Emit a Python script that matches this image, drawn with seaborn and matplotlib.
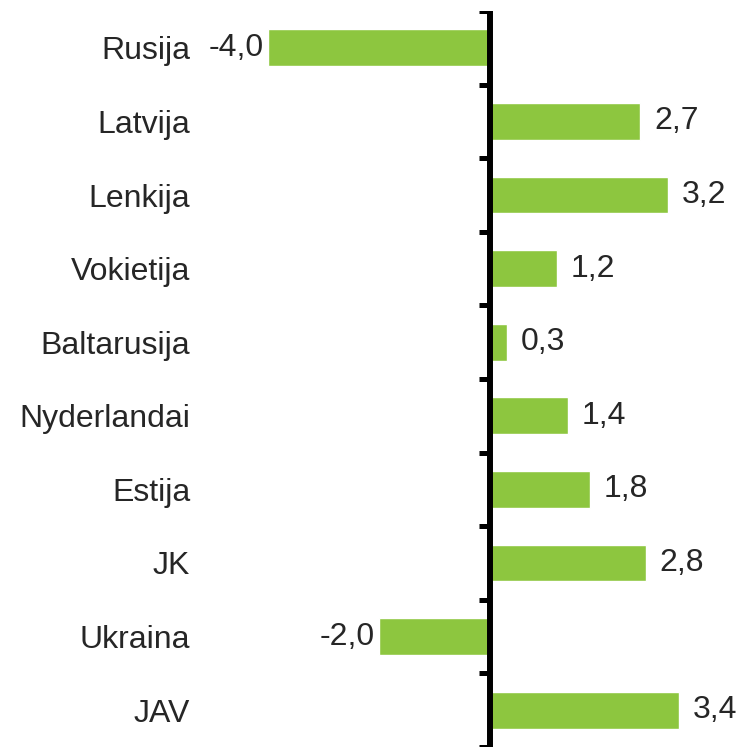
import matplotlib
matplotlib.use("Agg")
import matplotlib.pyplot as plt
import seaborn as sns
import numpy as np

categories = ["Rusija", "Latvija", "Lenkija", "Vokietija", "Baltarusija",
              "Nyderlandai", "Estija", "JK", "Ukraina", "JAV"]
values = [-4.0, 2.7, 3.2, 1.2, 0.3, 1.4, 1.8, 2.8, -2.0, 3.4]
value_labels = ["-4,0", "2,7", "3,2", "1,2", "0,3", "1,4", "1,8", "2,8", "-2,0", "3,4"]

sns.set_theme(style="white")
plt.rcParams["font.family"] = ["Liberation Sans", "DejaVu Sans"]

W, H = 744, 747
fig = plt.figure(figsize=(W / 100, H / 100), dpi=100)
ax = fig.add_axes([200 / W, 0.0, 1 - 200 / W, 1 - 11 / H])

green = "#8DC63F"
sns.barplot(x=values, y=categories, color=green, width=0.5, orient="h",
            saturation=1, ax=ax)

ax.set_xlim(-5.216, 4.568)
ax.set_ylim(len(categories) - 0.5, -0.5)

for s in ["top", "right", "bottom", "left"]:
    ax.spines[s].set_visible(False)
ax.axvline(0, color="black", lw=4.3, zorder=3)

ax.set_xticks([])
ax.set_yticks(range(len(categories)))
ax.set_yticklabels(categories, fontsize=23)
ax.tick_params(axis="y", which="major", length=0, pad=7)
# boundary ticks attached to the zero line
for yb in np.arange(-0.5, len(categories), 1.0):
    ax.plot([-0.2, 0], [yb, yb], color="black", lw=3.6, solid_capstyle="butt", zorder=3)

for i, (v, lab) in enumerate(zip(values, value_labels)):
    if v >= 0:
        ax.text(v + 0.25, i, lab, ha="left", va="center", fontsize=23)
    else:
        ax.text(v - 0.07, i, lab, ha="right", va="center", fontsize=23)

ax.set_xlabel("")
ax.set_ylabel("")
fig.savefig("out.png", dpi=100)
